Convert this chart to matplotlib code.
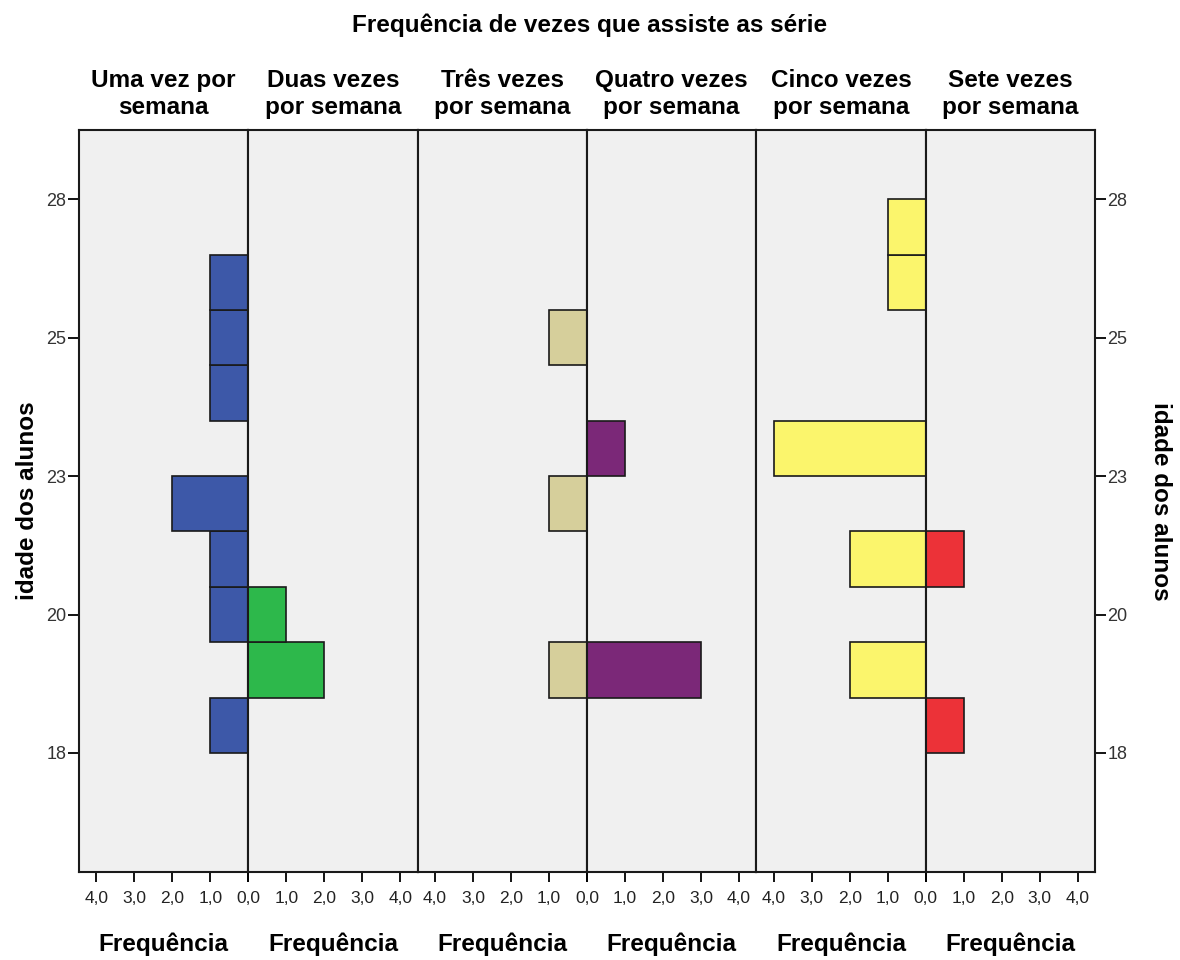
import matplotlib
matplotlib.use('Agg')
import matplotlib.pyplot as plt

# faixa de idade (inicio de cada barra) e contagens por grupo
idades = [18, 19, 20, 21, 22, 23, 24, 25, 26, 27]
uma_vez = [1, 0, 1, 1, 2, 0, 1, 1, 1, 0]
duas_vezes = [0, 2, 1, 0, 0, 0, 0, 0, 0, 0]
tres_vezes = [0, 1, 0, 0, 1, 0, 0, 1, 0, 0]
quatro_vezes = [0, 3, 0, 0, 0, 1, 0, 0, 0, 0]
cinco_vezes = [0, 2, 0, 2, 0, 4, 0, 0, 1, 1]
sete_vezes = [1, 0, 0, 1, 0, 0, 0, 0, 0, 0]

grupos = ['Uma vez por\nsemana', 'Duas vezes\npor semana', 'Três vezes\npor semana',
          'Quatro vezes\npor semana', 'Cinco vezes\npor semana', 'Sete vezes\npor semana']
cores = ['#3D58A8', '#2DB84B', '#D6CF9B', '#7B2878', '#FBF56C', '#EC3238']
series = [uma_vez, duas_vezes, tres_vezes, quatro_vezes, cinco_vezes, sete_vezes]

ytick_pos = [18, 20.5, 23, 25.5, 28]
ytick_lab = ['18', '20', '23', '25', '28']
xticks = [0, 1, 2, 3, 4]
xtick_lab = ['0,0', '1,0', '2,0', '3,0', '4,0']

plt.rcParams['font.family'] = ['Liberation Sans', 'DejaVu Sans']

W, H = 1180, 960
fig = plt.figure(figsize=(W / 100, H / 100), dpi=100)

left, right, top, bottom = 79, 1095, 130, 872
half = (right - left) / 6.0

for i in range(6):
    x0 = left + i * half
    ax = fig.add_axes([x0 / W, 1 - bottom / H, half / W, (bottom - top) / H])
    ax.set_facecolor('#F0F0F0')
    ys = [a for a, v in zip(idades, series[i]) if v > 0]
    vs = [v for v in series[i] if v > 0]
    ax.barh(ys, vs, height=1, align='edge', color=cores[i],
            edgecolor='#1a1a1a', linewidth=1.2)
    ax.set_xlim(0, half / 38.0)
    ax.set_ylim(15.85, 29.25)
    if i % 2 == 0:
        ax.invert_xaxis()
        labs = xtick_lab
    else:
        # o 0,0 do centro ja aparece na metade esquerda
        labs = [''] + xtick_lab[1:]
    ax.set_xticks(xticks)
    ax.set_xticklabels(labs, fontsize=12.5, color='#222222')
    ax.tick_params(axis='x', direction='out', length=7, width=1.3, pad=7)
    for s in ax.spines.values():
        s.set_linewidth(1.5)
        s.set_color('#1a1a1a')
    if i == 0:
        ax.set_yticks(ytick_pos)
        ax.set_yticklabels(ytick_lab, fontsize=13, color='#333333')
        ax.tick_params(axis='y', direction='out', length=8, width=1.3, pad=1)
    elif i == 5:
        ax.yaxis.tick_right()
        ax.set_yticks(ytick_pos)
        ax.set_yticklabels(ytick_lab, fontsize=13, color='#333333')
        ax.tick_params(axis='y', direction='out', length=8, width=1.3, pad=1)
    else:
        ax.set_yticks([])
    cx = (x0 + half / 2) / W
    fig.text(cx, 1 - 94 / H, grupos[i], ha='center', va='center',
             fontsize=17.5, fontweight='bold', linespacing=1.25)
    fig.text(cx, 1 - 944 / H, 'Frequência', ha='center', va='center',
             fontsize=17.5, fontweight='bold')

fig.text(0.5, 1 - 25 / H, 'Frequência de vezes que assiste as série', ha='center',
         va='center', fontsize=17.5, fontweight='bold')
fig.text(28 / W, 1 - 501 / H, 'idade dos alunos', rotation=90, ha='center',
         va='center', fontsize=17.5, fontweight='bold')
fig.text(1160 / W, 1 - 501 / H, 'idade dos alunos', rotation=-90, ha='center',
         va='center', fontsize=17.5, fontweight='bold')

fig.savefig('out.png', dpi=100, facecolor='white')
